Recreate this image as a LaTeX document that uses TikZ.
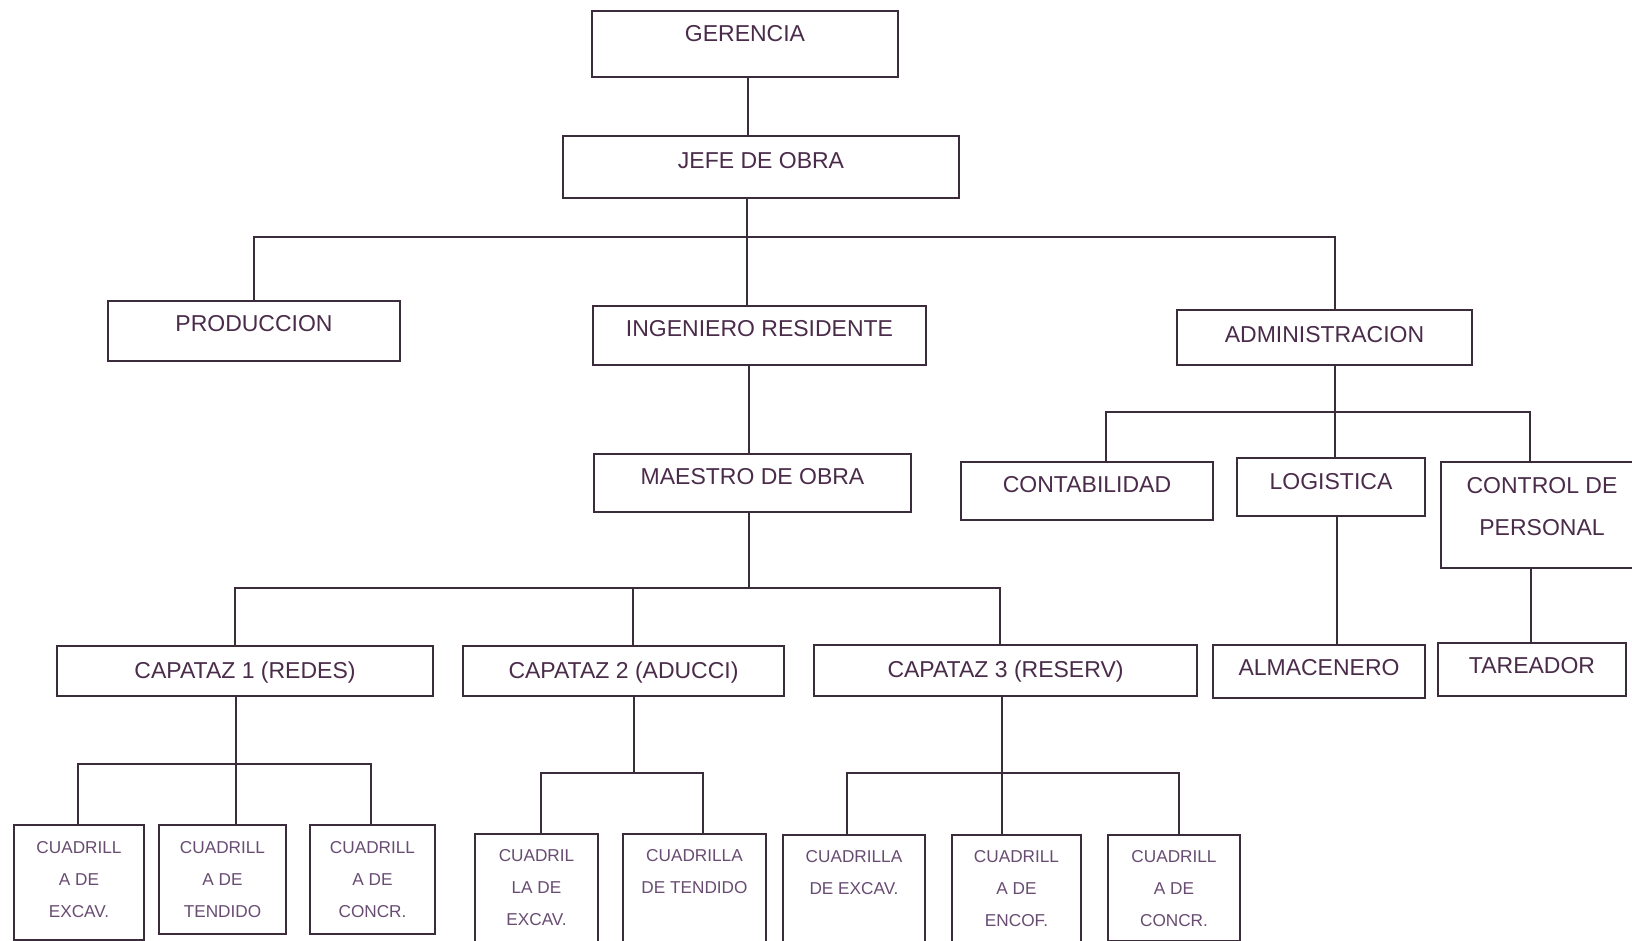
\documentclass[tikz,border=0pt]{standalone}
\usepackage{fontspec}
\setmainfont{Liberation Sans}
\usepackage{xcolor}

\definecolor{borde}{RGB}{58,44,58}
\definecolor{texto}{RGB}{74,44,74}
\definecolor{textocuad}{RGB}{104,76,114}

\newcommand{\lineas}[1]{\begin{tabular}[t]{@{}c@{}}#1\end{tabular}}

\tikzset{
  caja/.style={draw=borde, line width=1.1pt, inner sep=0pt, anchor=north,
    text=texto, font=\fontsize{11.5}{21}\selectfont},
  cuadrilla/.style={caja, text=textocuad, font=\fontsize{8.6}{16}\selectfont},
  linea/.style={draw=borde, line width=0.9pt},
}

\begin{document}
\begin{tikzpicture}[x=0.5pt, y=-0.5pt]
    \useasboundingbox (0,0) rectangle (1632,941);
    \clip (0,0) rectangle (1632,941);
    \fill[white] (0,0) rectangle (1632,941);

    \node[caja, minimum width=153pt, text height=15.35pt, text depth=17.65pt] (ger) at (745,10) {GERENCIA};
    \node[caja, minimum width=198pt, text height=16.35pt, text depth=14.65pt] (jefe) at (761,135) {JEFE DE OBRA};

    \node[caja, minimum width=146pt, text height=15.1pt, text depth=14.9pt] (prod) at (254,300) {PRODUCCION};
    \node[caja, minimum width=166.5pt, text height=15.1pt, text depth=14.4pt] (ing) at (759.5,305) {INGENIERO RESIDENTE};
    \node[caja, minimum width=147.5pt, text height=16.1pt, text depth=11.4pt] (adm) at (1324.5,309) {ADMINISTRACION};

    \node[caja, minimum width=158.5pt, text height=15.1pt, text depth=13.9pt] (mae) at (752.5,453) {MAESTRO DE OBRA};
    \node[caja, minimum width=126pt, text height=15.1pt, text depth=13.9pt] (cont) at (1087,461) {CONTABILIDAD};
    \node[caja, minimum width=94pt, text height=15.6pt, text depth=13.4pt] (log) at (1331,457) {LOGISTICA};
    \node[caja, minimum width=101pt, text height=15.6pt, text depth=37.4pt] (ctrl) at (1542,461) {\lineas{CONTROL DE\\PERSONAL}};

    \node[caja, minimum width=188pt, text height=16.1pt, text depth=8.9pt] (cap1) at (245,645) {CAPATAZ 1 (REDES)};
    \node[caja, minimum width=160.5pt, text height=16.1pt, text depth=8.9pt] (cap2) at (623.5,645) {CAPATAZ 2 (ADUCCI)};
    \node[caja, minimum width=191.5pt, text height=16.1pt, text depth=9.4pt] (cap3) at (1005.5,644) {CAPATAZ 3 (RESERV)};
    \node[caja, minimum width=106pt, text height=15.1pt, text depth=11.4pt] (alm) at (1319,644) {ALMACENERO};
    \node[caja, minimum width=94pt, text height=15.1pt, text depth=11.4pt] (tar) at (1532,642) {TAREADOR};

    \node[cuadrilla, minimum width=65pt, text height=14.1pt, text depth=43.4pt] (c11) at (79,824) {\lineas{CUADRILL\\A DE\\EXCAV.}};
    \node[cuadrilla, minimum width=63.5pt, text height=14.1pt, text depth=40.4pt] (c12) at (222.5,824) {\lineas{CUADRILL\\A DE\\TENDIDO}};
    \node[cuadrilla, minimum width=62.5pt, text height=14.1pt, text depth=40.4pt] (c13) at (372.5,824) {\lineas{CUADRILL\\A DE\\CONCR.}};
    \node[cuadrilla, minimum width=61.5pt, text height=13.6pt, text depth=47.4pt] (c21) at (536.5,833) {\lineas{CUADRIL\\LA DE\\EXCAV.}};
    \node[cuadrilla, minimum width=71.5pt, text height=13.6pt, text depth=47.4pt] (c22) at (694.5,833) {\lineas{CUADRILLA\\DE TENDIDO}};
    \node[cuadrilla, minimum width=71pt, text height=13.6pt, text depth=46.9pt] (c31) at (854,834) {\lineas{CUADRILLA\\DE EXCAV.}};
    \node[cuadrilla, minimum width=64.5pt, text height=13.6pt, text depth=46.9pt] (c32) at (1016.5,834) {\lineas{CUADRILL\\A DE\\ENCOF.}};
    \node[cuadrilla, minimum width=66pt, text height=13.6pt, text depth=39.4pt] (c33) at (1174,834) {\lineas{CUADRILL\\A DE\\CONCR.}};

    \coordinate (j1) at (747,237);
    \coordinate (j2) at (1335,412);
    \coordinate (j3) at (749,588);
    \coordinate (j4) at (236,764);
    \coordinate (j5) at (634,773);
    \coordinate (j6) at (1002,773);

    \draw[linea] (ger.south -| 748,0) -- (jefe.north -| 748,0);
    \draw[linea] (jefe.south -| j1) -- (ing.north -| j1);
    \draw[linea] (prod.north) |- (j1) -| (adm.north -| j2);

    \draw[linea] (ing.south -| j3) -- (mae.north -| j3);
    \draw[linea] (adm.south -| j2) -- (log.north -| j2);
    \draw[linea] (cont.north -| 1106,0) |- (j2) -| (ctrl.north -| 1530,0);
    \draw[linea] (log.south -| 1337,0) -- (alm.north -| 1337,0);
    \draw[linea] (ctrl.south -| 1531,0) -- (tar.north -| 1531,0);

    \draw[linea] (mae.south -| j3) -- (j3);
    \draw[linea] (cap1.north -| 235,0) |- (j3) -| (cap3.north -| 1000,0);
    \draw[linea] (j3) -| (cap2.north -| 633,0);

    \draw[linea] (cap1.south -| j4) -- (j4);
    \draw[linea] (c11.north -| 78,0) |- (j4) -| (c13.north -| 371,0);
    \draw[linea] (j4) -- (c12.north -| j4);
    \draw[linea] (cap2.south -| j5) -- (j5);
    \draw[linea] (c21.north -| 541,0) |- (j5) -| (c22.north -| 703,0);
    \draw[linea] (cap3.south -| j6) -- (j6);
    \draw[linea] (c31.north -| 847,0) |- (j6) -| (c33.north -| 1179,0);
    \draw[linea] (j6) -- (c32.north -| j6);
\end{tikzpicture}
\end{document}
